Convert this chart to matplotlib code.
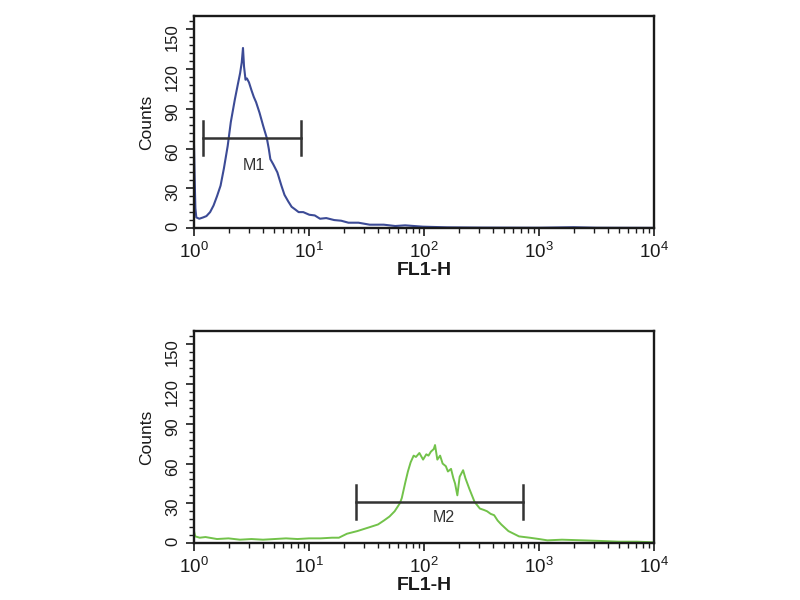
import numpy as np
import matplotlib.pyplot as plt
from matplotlib.ticker import LogLocator, MultipleLocator, NullFormatter

plt.rcParams['font.family'] = ['Liberation Sans', 'DejaVu Sans']

# top histogram: channel position (log10 FL1-H) and counts
top_log = [0.0, 0.005, 0.012, 0.02, 0.046, 0.08, 0.108, 0.14, 0.17, 0.20,
           0.231, 0.26, 0.293, 0.32, 0.355, 0.38, 0.401, 0.415, 0.426, 0.435,
           0.448, 0.46, 0.478, 0.50, 0.52, 0.540, 0.57, 0.602, 0.633, 0.65,
           0.664, 0.69, 0.725, 0.76, 0.787, 0.82, 0.849, 0.88, 0.910, 0.95,
           1.003, 1.05, 1.096, 1.15, 1.219, 1.28, 1.343, 1.43, 1.528, 1.65,
           1.75, 1.836, 1.99, 2.2, 2.5, 3.0, 3.3, 3.5, 4.0]
top_counts = [62, 40, 15, 8, 7, 8, 9, 12, 17, 24,
              32, 45, 62, 80, 97, 108, 117, 125, 136, 122,
              112, 113, 110, 104, 99, 95, 87, 77, 68, 60,
              52, 48, 42, 32, 25, 20, 16, 14, 12, 12,
              10, 9.5, 7, 7.5, 6, 5.5, 4, 4, 2.5, 2.5,
              1.5, 2, 1, 0.5, 0.3, 0.2, 0.6, 0.2, 0.1]

# bottom histogram
bottom_log = [0.0, 0.01, 0.05, 0.1, 0.2, 0.3, 0.4, 0.5, 0.6, 0.7,
              0.8, 0.9, 1.0, 1.1, 1.2, 1.26, 1.33, 1.42, 1.529, 1.6,
              1.652, 1.70, 1.745, 1.79, 1.807, 1.838, 1.86, 1.884, 1.91, 1.93,
              1.96, 1.992, 2.02, 2.039, 2.06, 2.085, 2.096, 2.116, 2.14, 2.162,
              2.19, 2.208, 2.235, 2.255, 2.27, 2.29, 2.31, 2.34, 2.36, 2.394,
              2.44, 2.486, 2.52, 2.548, 2.58, 2.61, 2.64, 2.672, 2.734, 2.78,
              2.826, 2.919, 3.0, 3.073, 3.2, 3.382, 3.55, 3.691, 3.85, 4.0]
bottom_counts = [9, 5, 4, 4.5, 3, 3.5, 2.5, 3, 2.5, 3,
                 3.5, 3, 3.5, 3.5, 4, 4, 7, 9, 12, 14,
                 17, 20, 24, 30, 34, 46, 54, 61, 66, 65,
                 68, 63, 67, 66, 69, 71, 74, 63, 66, 60,
                 58, 54, 56, 49, 45, 36, 50, 55, 49, 41,
                 31, 26, 25, 24, 22, 21, 17, 14, 9, 7,
                 5, 4, 3, 2, 2.5, 2, 1.5, 1, 1, 0.5]

# marker gates: (low, high) in FL1-H, bar level in counts, label and label position
m1_range = (1.2, 8.5)
m1_level = 68
m1_label = "M1"
m1_text_at = (3.3, 47)

m2_range = (25.7, 725)
m2_level = 31
m2_label = "M2"
m2_text_at = (148, 19)

fig = plt.figure(figsize=(8, 6), dpi=100)


def draw_panel(ax, log_x, counts, color, lw, gate, level, label, text_at):
    x = 10 ** np.array(log_x)
    ax.plot(x, counts, color=color, lw=lw)
    ax.set_xscale('log')
    ax.set_xlim(1, 1e4)
    ax.set_ylim(0, 160)
    ax.xaxis.set_major_locator(LogLocator(base=10, numticks=10))
    ax.xaxis.set_minor_locator(LogLocator(base=10, subs=np.arange(2, 10), numticks=50))
    ax.xaxis.set_minor_formatter(NullFormatter())
    ax.yaxis.set_minor_locator(MultipleLocator(6))
    ax.set_yticks([0, 30, 60, 90, 120, 150])
    ax.tick_params(axis='both', which='major', direction='out', length=6, width=1.2, colors='#1a1a1a')
    ax.tick_params(axis='both', which='minor', direction='out', length=3.5, width=1.0, colors='#1a1a1a')
    ax.tick_params(axis='x', labelsize=13.5, pad=4)
    ax.tick_params(axis='y', labelsize=12, labelrotation=90, pad=4)
    for s in ax.spines.values():
        s.set_linewidth(1.7)
        s.set_color('#1a1a1a')
    ax.set_xlabel('FL1-H', fontsize=14, fontweight='bold', labelpad=0, color='#1a1a1a')
    ax.set_ylabel('Counts', fontsize=12.5, labelpad=8, color='#1a1a1a')

    # gate bar with end ticks
    lo, hi = gate
    ax.plot([lo, hi], [level, level], color='#333333', lw=1.8)
    ax.plot([lo, lo], [level - 13, level + 13], color='#333333', lw=1.8)
    ax.plot([hi, hi], [level - 13, level + 13], color='#333333', lw=1.8)
    ax.text(text_at[0], text_at[1], label, fontsize=11.5, ha='center', va='center', color='#333333')


ax1 = fig.add_axes([0.2425, 0.62, 0.575, 0.353])
draw_panel(ax1, top_log, top_counts, '#3c4b96', 1.5, m1_range, m1_level, m1_label, m1_text_at)

ax2 = fig.add_axes([0.2425, 0.095, 0.575, 0.353])
draw_panel(ax2, bottom_log, bottom_counts, '#72c24a', 1.4, m2_range, m2_level, m2_label, m2_text_at)

fig.savefig('out.png', dpi=100)
